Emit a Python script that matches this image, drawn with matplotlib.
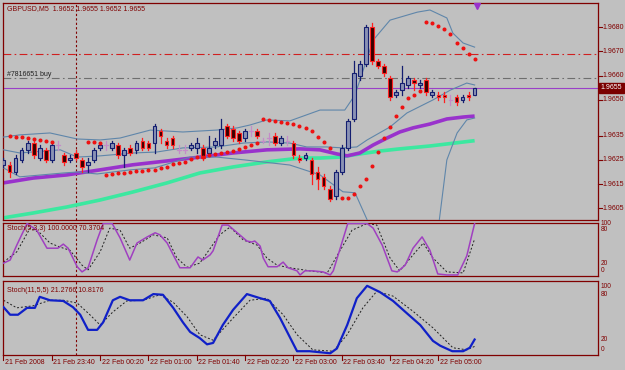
import matplotlib
matplotlib.use('Agg')
import matplotlib.pyplot as plt
from matplotlib.patches import Rectangle
from matplotlib import font_manager as fm
import numpy as np

# ---------------- data ----------------
# 5-minute bars, bar 0 = 21 Feb 2008 23:00
opens = [1.9623,1.9623,1.9620,1.9625,1.9629,1.9632,1.9626,1.9629,1.9625,1.9631,
         1.9627,1.9625,1.9628,1.9625,1.9623,1.9625,1.9630,1.9631,1.9630,1.9631,
         1.9627,1.9630,1.9629,1.9633,1.9632,1.9632,1.9637,1.9633,1.9634,1.9629,
         1.9629,1.9630,1.9630,1.9630,1.9628,1.9631,1.9631,1.9639,1.9638,1.9636,
         1.9634,1.9637,1.9637,1.9633,1.9634,1.9635,1.9632,1.9633,1.9632,1.9626,
         1.9626,1.9625,1.9620,1.9618,1.9613,1.9610,1.9620,1.9630,1.9642,1.9660,
         1.9665,1.9680,1.9666,1.9664,1.9659,1.9652,1.9654,1.9656,1.9658,1.9656,
         1.9658,1.9652,1.9652,1.9652,1.9650,1.9651,1.9650,1.9652,1.9652]
highs = [1.9626,1.9624,1.9627,1.9630,1.9633,1.9633,1.9631,1.9630,1.9632,1.9633,
         1.9628,1.9627,1.9629,1.9626,1.9626,1.9630,1.9632,1.9633,1.9633,1.9632,
         1.9630,1.9631,1.9633,1.9634,1.9633,1.9640,1.9638,1.9634,1.9635,1.9631,
         1.9631,1.9632,1.9634,1.9631,1.9635,1.9634,1.9642,1.9640,1.9639,1.9637,
         1.9638,1.9639,1.9638,1.9634,1.9636,1.9636,1.9635,1.9635,1.9633,1.9627,
         1.9628,1.9626,1.9622,1.9619,1.9614,1.9621,1.9631,1.9642,1.9666,1.9666,
         1.9681,1.9682,1.9667,1.9665,1.9660,1.9654,1.9664,1.9660,1.9659,1.9658,
         1.9659,1.9654,1.9653,1.9653,1.9652,1.9652,1.9652,1.9653,1.9655]
lows = [1.9622,1.9618,1.9619,1.9624,1.9628,1.9626,1.9625,1.9624,1.9624,1.9629,
        1.9623,1.9624,1.9625,1.9620,1.9620,1.9624,1.9629,1.9629,1.9629,1.9626,
        1.9622,1.9627,1.9628,1.9629,1.9629,1.9628,1.9632,1.9630,1.9630,1.9628,
        1.9628,1.9629,1.9628,1.9625,1.9627,1.9630,1.9630,1.9634,1.9633,1.9632,
        1.9633,1.9635,1.9634,1.9632,1.9631,1.9631,1.9631,1.9631,1.9626,1.9624,
        1.9625,1.9615,1.9613,1.9613,1.9608,1.9609,1.9619,1.9629,1.9641,1.9658,
        1.9664,1.9665,1.9663,1.9660,1.9650,1.9651,1.9652,1.9655,1.9654,1.9655,
        1.9652,1.9651,1.9650,1.9649,1.9648,1.9648,1.9649,1.9650,1.9652]
closes = [1.9625,1.9620,1.9626,1.9629,1.9632,1.9627,1.9630,1.9625,1.9631,1.9631,
          1.9624,1.9626,1.9626,1.9622,1.9624,1.9629,1.9631,1.9631,1.9632,1.9627,
          1.9629,1.9628,1.9632,1.9630,1.9630,1.9639,1.9635,1.9631,1.9631,1.9629,
          1.9629,1.9631,1.9632,1.9626,1.9630,1.9633,1.9638,1.9635,1.9634,1.9633,
          1.9637,1.9637,1.9635,1.9633,1.9634,1.9632,1.9634,1.9633,1.9627,1.9625,
          1.9627,1.9619,1.9617,1.9614,1.9609,1.9620,1.9630,1.9641,1.9661,1.9665,
          1.9680,1.9666,1.9664,1.9661,1.9651,1.9653,1.9657,1.9659,1.9657,1.9657,
          1.9653,1.9653,1.9651,1.9651,1.9650,1.9649,1.9651,1.9651,1.9655]

# Parabolic SAR (bar index, price)
sar_idx = [1,2,3,4,5,6,7,8, 14,15,16,
           17,18,19,20,21,22,23,24,25,26,27,28,29,30,31,32,33,34,35,36,37,38,39,40,41,42,
           43,44,45,46,47,48,49,50,51,52,53,54,
           56,57,58,59,60,61,62,63,64,65,66,67,68,69,
           70,71,72,73,74,75,76,77,78]
sar_val = [1.96350,1.96345,1.96345,1.96341,1.96337,1.96333,1.96329,1.96325,
           1.96325,1.96325,1.96320,
           1.96188,1.96192,1.96196,1.96196,1.96200,1.96204,1.96204,1.96209,1.96209,
           1.96217,1.96221,1.96233,1.96238,1.96242,1.96254,1.96262,1.96262,1.96271,
           1.96275,1.96279,1.96283,1.96287,1.96296,1.96304,1.96312,1.96320,
           1.96420,1.96416,1.96412,1.96408,1.96404,1.96400,1.96391,1.96383,1.96370,
           1.96345,1.96325,1.96300,
           1.96093,1.96093,1.96109,1.96142,1.96171,1.96225,1.96283,1.96341,1.96387,
           1.96432,1.96469,1.96507,1.96519,1.96536,
           1.96822,1.96818,1.96805,1.96793,1.96772,1.96735,1.96714,1.96689,1.96669]

# Bollinger bands (bar index, price)
bb_up_idx = [0,2.7,7.7,12.2,16,19.3,24.3,29.7,35.3,38.7,40.8,43.6,47.4,52.4,56.5,58.2,
             61.2,64,68.5,70.6,73.4,74.4,76.1,78]
bb_up_val = [1.96345,1.96354,1.96362,1.96337,1.96333,1.96341,1.96374,1.96366,1.96374,
             1.96383,1.96395,1.96416,1.96412,1.96457,1.96457,1.96520,1.96747,1.96830,
             1.96863,1.96872,1.96839,1.96776,1.96735,1.96718]
bb_mid_idx = [0,2.7,9.4,12.2,16,21.5,25.4,29.7,35.3,39.7,43.6,47.4,50.2,53.5,56.2,58.5,
              60.2,64,66.8,71.1,74,76.7,78]
bb_mid_val = [1.96292,1.96279,1.96292,1.96262,1.96267,1.96279,1.96283,1.96300,1.96304,
              1.96320,1.96325,1.96320,1.96304,1.96304,1.96300,1.96304,1.96333,1.96387,
              1.96445,1.96499,1.96540,1.96569,1.96561]
bb_lo_idx = [0,2.7,9.9,12.2,15.5,21,25,30.9,35.3,40,47.4,52.4,56.2,58.2,60.2,61.5,65,
             69,72,73.4,75.1,76.7,78]
bb_lo_val = [1.96217,1.96180,1.96196,1.96200,1.96192,1.96209,1.96217,1.96262,1.96262,
             1.96250,1.96229,1.96188,1.96118,1.96114,1.96002,1.95920,1.95850,1.95880,
             1.95970,1.96250,1.96362,1.96416,1.96424]

# moving averages (bar index, price)
ma_purple_idx = [0,4.9,10.5,16,21.4,27.1,32.5,38,43.6,49.1,52.4,55.2,56.9,59,61.2,63.5,
                 65.6,67.8,70.6,73.4,76.1,78]
ma_purple_val = [1.96155,1.96175,1.96188,1.96209,1.96230,1.96246,1.96262,1.96279,1.96292,
                 1.96296,1.96292,1.96275,1.96267,1.96279,1.96312,1.96341,1.96366,1.96383,
                 1.96399,1.96420,1.96428,1.96432]
ma_green_idx = [0,4.9,10.5,16,21.4,27.1,32.5,38,43.6,49.1,52.4,55.7,59,62.3,65.6,70.6,78]
ma_green_val = [1.96010,1.96030,1.96055,1.96084,1.96117,1.96155,1.96196,1.96221,1.96242,
                1.96258,1.96258,1.96262,1.96275,1.96287,1.96296,1.96308,1.96330]

# Stoch(5,3,3)
st1_k_idx = [0,1.1,2.2,3.9,5.5,7.2,8.2,9.0,9.9,10.7,12.2,13.0,14.0,15.5,16.5,18.0,19.3,
             20.9,22.1,23.8,25.1,25.9,27.1,29.2,30.9,32.2,33.0,34.2,34.7,36.2,37.2,38.7,
             40.3,41.1,41.6,42.5,43.0,43.8,45.3,46.3,47.1,48.6,49.1,49.9,51.2,52.9,54.1,
             54.6,57.0,59.0,60.2,61.2,62.7,64.3,65.2,66.5,67.8,69.3,70.6,71.9,73.4,75.2,
             76.7,78]
st1_k_val = [23,29,58,100,87,52,52,52,60,52,16,6,14,68,100,100,72,29,62,74,82,78,62,14,
             14,35,29,39,47,97,97,82,66,64,66,56,33,16,16,25,14,8,0,8,8,6,0,8,100,100,100,
             91,58,8,6,19,52,74,48,2,0,0,37,100]
st1_d_idx = [0,2.2,4.4,6.0,7.7,9.4,11.0,13.0,14.0,16.0,17.6,19.3,20.9,22.6,24.8,27.1,
             28.7,30.4,32.5,35.8,37.5,39.7,42.0,43.6,45.3,47.4,50.7,53.6,55.7,57.7,60.2,
             61.8,64.0,65.6,67.8,69.5,71.1,73.4,76.1,78]
st1_d_val = [25,45,91,82,62,54,48,19,10,45,91,87,52,62,78,72,33,15,23,78,93,68,58,33,19,
             14,8,4,47,87,100,97,33,8,39,62,33,6,4,70]

# Stoch(11,5,5)
st2_k_idx = [0,1.1,2.4,3.9,5.2,6.0,7.7,9.9,11.5,12.7,14.0,15.5,16.5,18.1,19.3,20.9,23.1,
             24.8,26.4,28.1,29.7,30.9,32.5,33.7,34.7,36.3,38.0,40.3,42.5,44.1,45.8,48.6,
             50.7,54.1,55.2,56.9,58.5,60.2,62.3,64.5,66.8,69.0,71.1,72.3,74.3,76.1,77.2,78]
st2_k_val = [68,57,57,67,67,83,78,77,68,57,35,35,46,78,83,78,78,87,86,67,46,32,23,14,16,
             42,64,87,81,77,52,4,4,1,8,42,81,99,90,77,59,42,19,12,4,4,9,21]
st2_d_idx = [0,2.2,4.9,7.7,9.9,12.2,14.3,16.0,18.1,20.4,23.1,25.9,28.1,30.4,32.5,34.7,
             38.0,40.8,43.6,46.3,48.6,51.2,54.6,56.9,59.5,61.8,64.5,67.8,71.1,74.4,76.7,78]
st2_d_val = [78,67,70,78,78,74,57,42,61,77,78,86,75,54,28,20,52,78,81,57,28,6,4,28,67,91,
             84,62,38,9,6,11]

price_ticks = [1.9680, 1.9670, 1.9660, 1.9650, 1.9635, 1.9625, 1.9615, 1.9605]
time_idx = [0, 8, 16, 24, 32, 40, 48, 56, 64, 72]
time_labels = ['21 Feb 2008', '21 Feb 23:40', '22 Feb 00:20', '22 Feb 01:00',
               '22 Feb 01:40', '22 Feb 02:20', '22 Feb 03:00', '22 Feb 03:40',
               '22 Feb 04:20', '22 Feb 05:00']
level_tp = 1.9669
level_order = 1.9659
bid = 1.9655
separator_idx = 12
title = 'GBPUSD,M5  1.9652 1.9655 1.9652 1.9655'
order_label = '#7816651 buy'
st1_label = 'Stoch(5,3,3) 100.0000 70.3704'
st2_label = 'Stoch(11,5,5) 21.2766 10.8176'

# ---------------- drawing ----------------
avail = {f.name for f in fm.fontManager.ttflist}
if 'Liberation Sans Narrow' in avail:
    FONT, FS = 'Liberation Sans Narrow', 5.8
else:
    FONT, FS = 'Liberation Sans', 5.0
plt.rcParams['font.family'] = [FONT, 'DejaVu Sans']

W, H = 625, 370
BG = '#c0c0c0'
FR = '#800000'
fig = plt.figure(figsize=(W / 100, H / 100), dpi=100)
fig.patch.set_facecolor(BG)

def ax_at(x0, y0, x1, y1):
    a = fig.add_axes([x0 / W, 1 - y1 / H, (x1 - x0) / W, (y1 - y0) / H])
    a.set_facecolor(BG)
    for s in a.spines.values():
        s.set_color(FR)
        s.set_linewidth(0.9)
    a.set_xticks([])
    a.set_yticks([])
    return a

XL = (-0.5 / 6.04, (598 - 3.5) / 6.04)
ax = ax_at(3, 3, 598, 220)
ax1 = ax_at(3, 223, 598, 276)
ax2 = ax_at(3, 281, 598, 355)
for a in (ax, ax1, ax2):
    a.set_xlim(*XL)
ax.set_ylim(1.96001, 1.96901)
ax1.set_ylim(-2, 101)
ax2.set_ylim(-1.5, 106)

# moving averages
ax.plot(ma_green_idx, ma_green_val, color='#3ce8a0', lw=2.6, solid_capstyle='butt', zorder=2)
ax.plot(ma_purple_idx, ma_purple_val, color='#9932cc', lw=2.6, solid_capstyle='butt', zorder=2)
# bollinger
for xi, yv in ((bb_up_idx, bb_up_val), (bb_mid_idx, bb_mid_val), (bb_lo_idx, bb_lo_val)):
    ax.plot(xi, yv, color='#5f86aa', lw=0.8, zorder=3)

# horizontal lines
ax.axhline(level_tp, color='#d02020', lw=0.8, ls=(0, (7, 3, 1.5, 3)), zorder=1)
ax.axhline(level_order, color='#6e6e6e', lw=0.8, ls=(0, (7, 3, 1.5, 3)), zorder=1)
ax.axhline(bid, color='#9a40c8', lw=0.8, zorder=1)

# candles
BW = 0.62
for i, (o, h, l, c) in enumerate(zip(opens, highs, lows, closes)):
    if c > o:
        fc, ec = '#8a92b4', '#141e70'
    elif c < o:
        fc, ec = '#3a0000', '#ff2020'
    else:
        fc, ec = '#c48cc8', '#c48cc8'
    ax.plot([i, i], [l, h], color=ec, lw=0.9, zorder=4)
    if c != o:
        ax.add_patch(Rectangle((i - BW / 2, min(o, c)), BW, abs(c - o), facecolor=fc,
                               edgecolor=ec, lw=0.8, zorder=5))
    else:
        ax.plot([i - BW / 2, i + BW / 2], [o, o], color=ec, lw=0.9, zorder=5)

# SAR
ax.plot(sar_idx, sar_val, ls='none', marker='o', ms=1.9, color='#ee1111', mec='#ee1111', zorder=6)

# chart-shift triangle
ax.plot([len(closes) - 1 + 0.4], [0.985], marker='v', ms=5, color='#9932cc',
        transform=ax.get_xaxis_transform(), clip_on=False, zorder=7)

# stochastics
ax1.plot(st1_k_idx, st1_k_val, color='#a040c0', lw=1.1, zorder=3)
ax1.plot(st1_d_idx, st1_d_val, color='#202020', lw=0.7, ls=(0, (2, 2)), zorder=2)
ax2.plot(st2_k_idx, st2_k_val, color='#1020c8', lw=1.6, zorder=3)
ax2.plot(st2_d_idx, st2_d_val, color='#202020', lw=0.7, ls=(0, (2, 2)), zorder=2)

# period separator
for a in (ax, ax1, ax2):
    a.axvline(separator_idx, color=FR, lw=0.8, ls=(0, (2, 2)), zorder=1)

# texts
TC = '#800000'
fig.text(7 / W, 1 - 9 / H, title, fontsize=FS, color=TC, va='center', ha='left')
fig.text(7 / W, 1 - 74 / H, order_label, fontsize=FS, color='#202020', va='center', ha='left')
fig.text(7 / W, 1 - 229 / H, st1_label, fontsize=FS, color=TC, va='center', ha='left')
fig.text(7 / W, 1 - 291 / H, st2_label, fontsize=FS, color=TC, va='center', ha='left')

# price axis
for p in price_ticks:
    ax.annotate(f'{p:.4f}', xy=(1, p), xycoords=('axes fraction', 'data'),
                xytext=(3, 0), textcoords='offset points', fontsize=FS, color=TC,
                va='center', ha='left', annotation_clip=False)
    ax.plot([1, 1.006], [p, p], color=TC, lw=0.8, transform=ax.get_yaxis_transform(),
            clip_on=False)
ax.annotate(f'{bid:.4f}', xy=(1, bid), xycoords=('axes fraction', 'data'),
            xytext=(2, 0), textcoords='offset points', fontsize=FS, color='white',
            va='center', ha='left', annotation_clip=False,
            bbox=dict(boxstyle='square,pad=0.2', fc='#7a0000', ec='#7a0000'))

# stoch axes labels
for a, pos in ((ax1, [(100, 100.0), (80, 88.0), (20, 22.0), (0, 8.0)]),
               (ax2, [(100, 98.0), (80, 87.0), (20, 21.0), (0, 6.0)])):
    for lab, yv in pos:
        a.annotate(str(lab), xy=(1, yv), xycoords=('axes fraction', 'data'),
                   xytext=(2, 0), textcoords='offset points', fontsize=FS - 0.3,
                   color=TC, va='center', ha='left', annotation_clip=False)

# time axis
for xi, lab in zip(time_idx, time_labels):
    ax2.plot([xi, xi], [0, -0.07], color=TC, lw=0.8, transform=ax2.get_xaxis_transform(),
             clip_on=False)
    ax2.annotate(lab, xy=(xi, 0), xycoords=('data', 'axes fraction'), xytext=(1.2, -3.0),
                 textcoords='offset points', fontsize=FS, color=TC, va='top', ha='left',
                 annotation_clip=False)

fig.savefig('out.png', dpi=100, facecolor=BG)
